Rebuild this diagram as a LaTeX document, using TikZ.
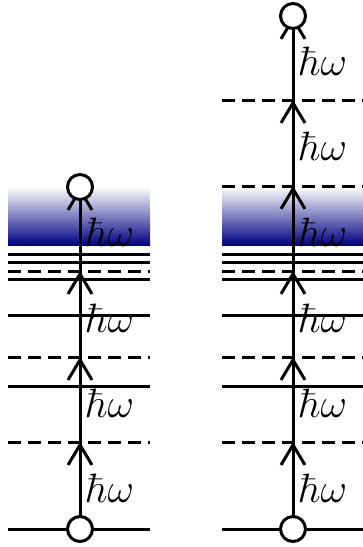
\RequirePackage{fix-cm}
\documentclass[tikz,border=0pt]{standalone}
\usetikzlibrary{arrows.meta}
\definecolor{deepblue}{RGB}{0,0,128}
\tikzset{
  lvl/.style={line width=3pt},
  lvld/.style={line width=3pt, dash pattern=on 13pt off 7pt},
  shaft/.style={line width=3pt},
  arr/.style={line width=3pt, -{Straight Barb[length=20pt,width=24pt]}},
  dot/.style={circle, draw, line width=3pt, fill=white, minimum size=25pt, inner sep=0pt},
  lab/.style={anchor=west, inner sep=0pt, font=\fontsize{41}{48}\selectfont},
  band/.style={top color=white, bottom color=deepblue}
}
\begin{document}
\begin{tikzpicture}[x=1pt,y=-1pt]
\useasboundingbox (0,0) rectangle (362,547);
% ---------- left panel ----------
\shade[band] (8,187) rectangle (150,245);
\foreach \y in {254,262,279,315,386,529} \draw[lvl] (8,\y) -- (150,\y);
\foreach \y in {271,357,442} \draw[lvld] (8,\y) -- (150,\y);
\coordinate (Lg) at (80,529);
\coordinate (La) at (80,442);
\coordinate (Lb) at (80,357);
\coordinate (Lc) at (80,271);
\coordinate (Lt) at (80,187);
\draw[shaft] (Lg) -- (Lt);
\draw[arr] (Lg) -- (La);
\draw[arr] (La) -- (Lb);
\draw[arr] (Lb) -- (Lc);
\draw[arr] (Lc) -- (Lt);
\node[dot] (Lgs) at (Lg) {};
\node[dot] (Lts) at (Lt) {};
\node[lab] (L1) at (86,488) {$\hbar\omega$};
\node[lab] (L2) at (86,403) {$\hbar\omega$};
\node[lab] (L3) at (86,318) {$\hbar\omega$};
\node[lab] (L4) at (86,232) {$\hbar\omega$};
% ---------- right panel ----------
\shade[band] (222,187) rectangle (364,245);
\foreach \y in {254,262,279,315,386,529} \draw[lvl] (222,\y) -- (364,\y);
\foreach \y in {100,186,271,357,442} \draw[lvld] (222,\y) -- (364,\y);
\coordinate (Rg) at (293,529);
\coordinate (Ra) at (293,442);
\coordinate (Rb) at (293,357);
\coordinate (Rc) at (293,271);
\coordinate (Rd) at (293,186);
\coordinate (Re) at (293,100);
\coordinate (Rt) at (293,16);
\draw[shaft] (Rg) -- (Rt);
\draw[arr] (Rg) -- (Ra);
\draw[arr] (Ra) -- (Rb);
\draw[arr] (Rb) -- (Rc);
\draw[arr] (Rc) -- (Rd);
\draw[arr] (Rd) -- (Re);
\draw[arr] (Re) -- (Rt);
\node[dot] (Rgs) at (Rg) {};
\node[dot] (Rts) at (Rt) {};
\node[lab] (R1) at (299,488) {$\hbar\omega$};
\node[lab] (R2) at (299,403) {$\hbar\omega$};
\node[lab] (R3) at (299,318) {$\hbar\omega$};
\node[lab] (R4) at (299,232) {$\hbar\omega$};
\node[lab] (R5) at (299,146) {$\hbar\omega$};
\node[lab] (R6) at (299,61) {$\hbar\omega$};
\end{tikzpicture}
\end{document}
